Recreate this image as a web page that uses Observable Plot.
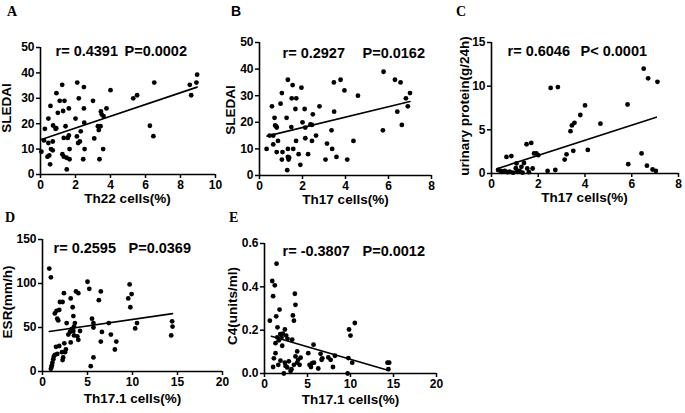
<!DOCTYPE html>
<html>
<head>
<meta charset="utf-8">
<script src="https://cdn.jsdelivr.net/npm/d3@7"></script>
<script src="https://cdn.jsdelivr.net/npm/@observablehq/plot@0.6"></script>
<style>
  html, body { margin: 0; padding: 0; background: #fff; }
  #wrap { position: relative; width: 685px; height: 413px; overflow: hidden; background: #fff; }
  #wrap svg { position: absolute; left: 0; top: 0; }
  .letter { position: absolute; font-weight: bold; font-size: 14px; color: #000; line-height: 1; }
  .ytitle { position: absolute; font-family: 'Liberation Sans', Arial, Helvetica, sans-serif; font-weight: bold; font-size: 13.5px; color: #000; line-height: 1; white-space: nowrap; transform: translate(-50%, -50%) rotate(-90deg); }
</style>
</head>
<body>
<div id="wrap"></div>
<script>
// ---------- data ----------
const panelLetters = ["A", "B", "C", "D", "E"];

const aPoints = [[0.05,9],[0.25,18],[0.2,13.4],[0.45,12.4],[0.45,22],[0.57,27],[0.55,4],[0.6,10],[0.5,7.5],[0.4,7],[0.7,9.5],[0.7,13],[0.72,19.3],[0.86,18],[0.9,18.2],[0.91,32],[0.99,24.3],[1.1,29],[1.24,35.3],[1.29,25],[1.25,8],[1.33,7],[1.37,29],[1.33,14.4],[1.43,19],[1.56,14.4],[1.49,6.6],[1.5,2],[1.62,26],[1.62,15.4],[1.66,10],[1.66,6],[2.0,22],[2.08,15],[2.1,36.2],[2.15,12.4],[2.19,30],[2.25,13],[2.3,17],[2.44,6],[2.48,34.4],[2.48,26],[2.5,20.4],[2.52,10],[3.0,29],[3.07,14.2],[3.28,19],[3.33,17.5],[3.37,6],[3.43,19],[3.45,24.8],[3.5,23.6],[3.58,10],[3.6,23],[3.77,26],[4.0,33.2],[5.3,30],[5.52,31.2],[6.25,19.2],[6.45,15.1],[6.5,36.2],[8.53,35.3],[8.61,31.2],[8.91,36.2],[8.95,39.3]];
const aFit = [[0.05,13.8],[8.95,34.4]];

const bPoints = [[0.33,10],[0.47,15],[0.58,26],[0.64,15],[0.64,11.7],[0.7,21.7],[0.73,18.8],[0.78,18.5],[0.8,18],[0.8,8.8],[0.86,13],[0.98,27],[1.04,31],[1.04,6],[1.07,8.8],[1.26,21.7],[1.29,2],[1.32,36],[1.32,10],[1.32,7],[1.35,6],[1.38,6.7],[1.48,18.2],[1.5,29],[1.54,34],[1.57,10],[1.67,25],[1.7,13],[1.71,29],[1.82,8],[1.9,4],[1.95,33],[2.0,20],[2.1,25],[2.13,14],[2.13,18],[2.26,8],[2.37,19.2],[2.44,19],[2.48,23],[2.44,13],[2.63,15],[2.79,26],[3.07,6],[3.14,12],[3.35,17],[3.38,10],[3.46,35],[3.47,24],[3.58,7],[3.77,36],[3.95,32],[4.08,6],[4.37,13],[4.58,30],[5.74,17],[5.77,39],[6.3,36],[6.41,24],[6.56,35],[6.62,19],[6.81,29],[6.9,26],[7.0,31]];
const bFit = [[0.35,14.8],[7.0,27.8]];

const cPoints = [[0.28,0.4],[0.4,0.3],[0.45,0.2],[0.57,0.3],[0.64,1.9],[0.68,0.15],[0.78,0.2],[0.85,2.0],[0.92,0.1],[1.04,0.6],[1.07,1.15],[1.1,0.2],[1.2,0.3],[1.28,0.76],[1.33,0.1],[1.39,1.2],[1.5,3.35],[1.53,0.57],[1.6,0.15],[1.7,3.5],[1.76,0.57],[1.82,2.3],[1.92,2.3],[2.0,2.1],[2.4,0.3],[2.53,9.8],[2.73,0.4],[2.84,9.9],[3.13,1.6],[3.21,2.2],[3.38,4.85],[3.44,5.5],[3.55,5.8],[3.5,2.6],[3.8,6.7],[4.0,7.8],[4.12,2.7],[4.66,5.7],[5.82,7.9],[5.85,1.07],[6.42,2.3],[6.51,12.0],[6.65,0.9],[6.7,10.9],[6.89,0.46],[7.03,0.3],[7.1,10.5]];
const cFit = [[0.3,0.6],[7.05,6.45]];

const dPoints = [[0.75,117],[0.93,107],[0.93,3],[1.0,5],[1.04,7],[1.1,10],[1.2,14],[1.26,17],[1.37,19],[1.5,28],[1.37,66],[1.56,69],[1.64,60],[1.75,58],[1.86,70],[1.64,20],[1.86,29],[1.94,79],[2.23,79],[2.16,22],[2.23,13],[2.3,16],[2.38,89],[2.42,32],[2.5,22],[2.6,25],[2.68,55],[2.87,42],[3.05,45],[3.13,33],[3.13,83],[3.24,48],[3.35,73],[3.43,46],[3.43,63],[3.5,51],[3.5,41],[3.6,55],[3.72,91],[3.87,40],[3.98,36],[3.98,89],[4.17,46],[5.0,102],[5.2,94],[5.36,6],[5.5,60],[5.66,16],[5.66,55],[5.66,50],[6.26,81],[6.48,91],[6.48,34],[6.6,45],[7.37,55],[7.6,42],[8.04,25],[8.2,34],[9.53,83],[9.68,99],[9.76,73],[9.9,88],[10.3,49],[10.5,55],[14.3,41],[14.4,57],[14.45,51]];
const dFit = [[0.75,45.5],[14.45,65.8]];

const ePoints = [[0.62,0.244],[0.9,0.427],[1.2,0.407],[1.0,0.357],[1.0,0.03],[1.09,0.07],[1.28,0.094],[1.28,0.14],[1.36,0.264],[1.4,0.507],[1.48,0.167],[1.51,0.213],[1.6,0.04],[1.67,0.153],[1.75,0.295],[1.83,0.182],[1.86,0.059],[1.98,0.167],[2.06,0.128],[2.13,0.184],[2.25,0.0],[2.37,0.203],[2.37,0.05],[2.45,0.035],[2.52,0.175],[2.64,0.028],[2.68,0.16],[2.83,0.056],[3.03,0.012],[3.14,0.02],[3.22,0.156],[3.3,0.268],[3.42,0.244],[3.42,0.04],[3.53,0.368],[3.6,0.317],[3.6,0.079],[3.8,0.05],[3.8,0.102],[3.92,0.063],[4.08,0.04],[4.2,0.073],[5.09,0.094],[5.24,0.04],[5.4,0.03],[5.55,0.048],[5.7,0.133],[5.75,0.05],[6.25,0.023],[6.52,0.091],[6.64,0.063],[6.72,0.07],[7.42,0.074],[7.69,0.063],[7.96,0.03],[8.19,0.082],[9.67,0.0],[9.75,0.071],[9.83,0.203],[10.0,0.175],[10.2,0.05],[10.5,0.233],[14.3,0.05],[14.5,0.05],[14.4,0.02]];
const eFit = [[0.8,0.172],[14.45,0.014]];

const xTitles = ["Th22 cells(%)", "Th17 cells(%)", "Th17 cells(%)", "Th17.1 cells(%)", "Th17.1 cells(%)"];
const yTitles = ["SLEDAI", "SLEDAI", "urinary protein(g/24h)", "ESR(mm/h)", "C4(units/ml)"];
const rLabels = ["r= 0.4391", "r= 0.2927", "r= 0.6046", "r= 0.2595", "r= -0.3807"];
const pLabels = ["P=0.0002", "P=0.0162", "P< 0.0001", "P=0.0369", "P=0.0012"];

const xDomains = [[0, 10], [0, 8], [0, 8], [0, 20], [0, 20]];
const yDomains = [[0, 50], [0, 50], [0, 15], [0, 150], [0, 0.6]];
const xTicks = [[0, 2, 4, 6, 8, 10], [0, 2, 4, 6, 8], [0, 2, 4, 6, 8], [0, 5, 10, 15, 20], [0, 5, 10, 15, 20]];
const yTicks = [[0, 10, 20, 30, 40, 50], [0, 10, 20, 30, 40, 50], [0, 5, 10, 15], [0, 50, 100, 150], [0, 0.2, 0.4, 0.6]];
const yFormats = [null, null, null, null, ".1f"];

// ---------- layout (pixels) ----------
const W = 685, H = 413;
const layout = [
  {frame: [40, 215, 47, 174], yt: [7, 108], xt: [127, 202], r: [55, 45], p: [124, 45], letter: [7, 5], serif: true},
  {frame: [259, 431, 42, 175], yt: [231, 110], xt: [345, 203], r: [282, 47], p: [362, 47], letter: [231, 4], serif: false},
  {frame: [491, 678, 42, 173], yt: [465, 106], xt: [584, 201], r: [507, 45], p: [580, 45], letter: [456, 5], serif: true},
  {frame: [42, 222, 239, 371], yt: [8, 302], xt: [132, 402], r: [53, 242], p: [128, 242], letter: [5, 211], serif: true},
  {frame: [264, 436, 243, 373], yt: [233, 306], xt: [350, 403], r: [282, 245], p: [362, 245], letter: [229, 211], serif: true}
];

const pointSets = [aPoints, bPoints, cPoints, dPoints, ePoints];
const fits = [aFit, bFit, cFit, dFit, eFit];

const wrap = document.getElementById("wrap");
const FONT = "'Liberation Sans', Arial, Helvetica, sans-serif";

layout.forEach((L, i) => {
  const [x0, x1, y0, y1] = L.frame;
  const midX = (x0 + x1) / 2;
  const fmt = yFormats[i] ? d3.format(yFormats[i]) : d3.format("d");
  const chart = Plot.plot({
    width: W, height: H,
    marginLeft: x0, marginRight: W - x1, marginTop: y0, marginBottom: H - y1,
    style: {background: "transparent", fontFamily: FONT, fontWeight: "bold", fontSize: "12px", color: "#000"},
    x: {domain: xDomains[i]},
    y: {domain: yDomains[i]},
    marks: [
      Plot.axisX({ticks: xTicks[i], tickSize: 4, tickPadding: 2, tickFormat: d3.format("d"), strokeWidth: 1.5, label: null, fontSize: 12, fontWeight: "bold"}),
      Plot.axisY({ticks: yTicks[i], tickSize: 4, tickPadding: 2, tickFormat: fmt, strokeWidth: 1.5, label: null, fontSize: 12, fontWeight: "bold"}),
      Plot.ruleX([xDomains[i][0]], {stroke: "#000", strokeWidth: 1.6}),
      Plot.ruleY([yDomains[i][0]], {stroke: "#000", strokeWidth: 1.6}),
      Plot.dot(pointSets[i], {x: d => d[0], y: d => d[1], r: 2.4, fill: "#000", stroke: "none"}),
      Plot.line(fits[i], {x: d => d[0], y: d => d[1], stroke: "#000", strokeWidth: 1.6}),
      Plot.text([xTitles[i]], {text: d => d, frameAnchor: "bottom", dx: L.xt[0] - midX, dy: L.xt[1] - y1, fontSize: 13.5, fontWeight: "bold", fill: "#000"}),
      Plot.text([rLabels[i]], {text: d => d, frameAnchor: "top-left", textAnchor: "start", dx: L.r[0] - x0, dy: L.r[1] - y0, fontSize: 14.5, fontWeight: "bold", fill: "#000"}),
      Plot.text([pLabels[i]], {text: d => d, frameAnchor: "top-left", textAnchor: "start", dx: L.p[0] - x0, dy: L.p[1] - y0, fontSize: 14.5, fontWeight: "bold", fill: "#000"})
    ]
  });
  wrap.appendChild(chart);

  const yt = document.createElement("div");
  yt.className = "ytitle";
  yt.textContent = yTitles[i];
  yt.style.left = L.yt[0] + "px";
  yt.style.top = L.yt[1] + "px";
  wrap.appendChild(yt);

  const lab = document.createElement("div");
  lab.className = "letter";
  lab.textContent = panelLetters[i];
  lab.style.left = L.letter[0] + "px";
  lab.style.top = L.letter[1] + "px";
  lab.style.fontFamily = L.serif ? "'Liberation Serif', 'Times New Roman', serif" : FONT;
  wrap.appendChild(lab);
});
</script>
</body>
</html>
